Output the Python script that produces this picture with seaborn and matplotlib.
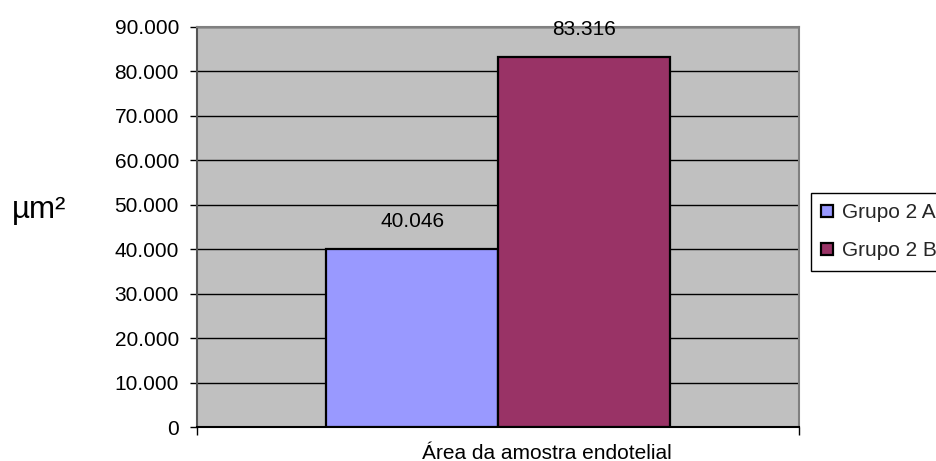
import matplotlib
matplotlib.use("Agg")
import matplotlib.pyplot as plt
from matplotlib.transforms import ScaledTranslation
from matplotlib.ticker import FuncFormatter, FixedLocator
import seaborn as sns
import pandas as pd

# Data
categoria = ["Área da amostra endotelial"]
grupos = ["Grupo 2 A", "Grupo 2 B"]
areas = [40046, 83316]
cores = ["#9999FF", "#993366"]
y_ticks = [0, 10000, 20000, 30000, 40000, 50000, 60000, 70000, 80000, 90000]

df = pd.DataFrame({
    "categoria": categoria * len(grupos),
    "grupo": grupos,
    "area": areas,
})

sns.set_theme(style="white")
plt.rcParams["font.family"] = ["Liberation Sans", "DejaVu Sans"]

fig = plt.figure(figsize=(9.36, 4.61), dpi=100)
ax = fig.add_axes([197 / 936, 34 / 461, 602 / 936, 400 / 461])
ax.set_facecolor("#C0C0C0")

sns.barplot(
    data=df, x="categoria", y="area", hue="grupo",
    palette=cores, saturation=1, width=0.571,
    edgecolor="black", linewidth=1.6, ax=ax, zorder=3,
)

ax.set_xlim(-0.5, 0.5)
ax.set_ylim(0, 90000)
ax.set_yticks(y_ticks)
ax.yaxis.set_major_formatter(FuncFormatter(lambda v, p: f"{int(v):,}".replace(",", ".")))
ax.grid(axis="y", color="black", linewidth=1, zorder=0)
ax.set_axisbelow(True)

# value labels above each bar
for bar, val in zip(ax.patches, areas):
    ax.annotate(f"{val:,}".replace(",", "."),
                (bar.get_x() + bar.get_width() / 2, val),
                xytext=(0, 19.5), textcoords="offset points",
                ha="center", va="center", fontsize=15, color="black")

# axes styling
for side in ["top", "right"]:
    ax.spines[side].set_color("#808080")
    ax.spines[side].set_linewidth(1.5)
ax.spines["left"].set_color("#555555")
ax.spines["left"].set_linewidth(1.5)
ax.spines["bottom"].set_color("black")
ax.spines["bottom"].set_linewidth(1.5)

ax.tick_params(axis="y", left=True, length=5, width=1, color="black",
               labelsize=15, pad=8, labelcolor="black")
ax.tick_params(axis="x", which="major", bottom=False, length=0,
               labelsize=15, pad=12, labelcolor="black")
ax.xaxis.set_minor_locator(FixedLocator([-0.5, 0.5]))
ax.tick_params(axis="x", which="minor", bottom=True, length=6, width=1, color="black")
for lbl in ax.get_xticklabels():
    lbl.set_transform(lbl.get_transform() + ScaledTranslation(49 / 100, 0, fig.dpi_scale_trans))

ax.set_xlabel("")
ax.set_ylabel("")
fig.text(12 / 936, 1 - 210 / 461, "µm²", fontsize=22.5, ha="left", va="center", color="black")

handles, labels = ax.get_legend_handles_labels()
ax.legend(handles, labels, loc="upper left",
          bbox_to_anchor=(811 / 936, 1 - 193 / 461), bbox_transform=fig.transFigure,
          borderaxespad=0, frameon=True, fancybox=False, edgecolor="black",
          facecolor="white", framealpha=1, fontsize=15,
          handlelength=0.55, handleheight=0.55, handletextpad=0.42,
          labelspacing=0.9, borderpad=0.5)
ax.get_legend().get_frame().set_linewidth(1)

fig.savefig("out.png", dpi=100)
